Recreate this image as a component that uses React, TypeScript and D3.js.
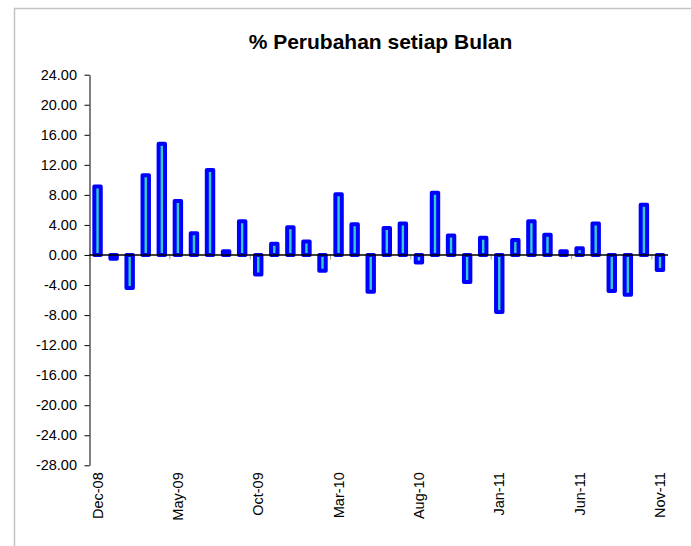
import React, { useEffect, useRef } from 'react';
import * as d3 from 'd3';

// monthly % change, Dec-08 .. Nov-11
const months = [
  'Dec-08', 'Jan-09', 'Feb-09', 'Mar-09', 'Apr-09', 'May-09', 'Jun-09', 'Jul-09', 'Aug-09', 'Sep-09', 'Oct-09', 'Nov-09',
  'Dec-09', 'Jan-10', 'Feb-10', 'Mar-10', 'Apr-10', 'May-10', 'Jun-10', 'Jul-10', 'Aug-10', 'Sep-10', 'Oct-10', 'Nov-10',
  'Dec-10', 'Jan-11', 'Feb-11', 'Mar-11', 'Apr-11', 'May-11', 'Jun-11', 'Jul-11', 'Aug-11', 'Sep-11', 'Oct-11', 'Nov-11',
];
const changes = [
  9.1, -0.5, -4.4, 10.6, 14.8, 7.2, 2.9, 11.3, 0.5, 4.5, -2.6, 1.5,
  3.7, 1.8, -2.1, 8.1, 4.1, -4.9, 3.6, 4.2, -1.0, 8.3, 2.6, -3.6,
  2.3, -7.6, 2.0, 4.5, 2.7, 0.5, 0.9, 4.2, -4.8, -5.3, 6.7, -2.0,
];
const shownLabels = ['Dec-08', 'May-09', 'Oct-09', 'Mar-10', 'Aug-10', 'Jan-11', 'Jun-11', 'Nov-11'];
const yTicks = [24, 20, 16, 12, 8, 4, 0, -4, -8, -12, -16, -20, -24, -28];

const W = 691;
const H = 546;
const FONT = '"Liberation Sans", Arial, sans-serif';

export default function App() {
  const ref = useRef<SVGSVGElement>(null);

  useEffect(() => {
    const svg = d3.select(ref.current);
    svg.selectAll('*').remove();

    const left = 89.5, right = 668, top = 74.7, bottom = 465.3;

    const x = d3.scaleBand<string>()
      .domain(months)
      .range([left, right])
      .paddingInner(0.6)
      .paddingOuter(0.3);
    const y = d3.scaleLinear().domain([-28, 24]).range([bottom, top]);

    // outer frame
    svg.append('rect')
      .attr('x', 14.5).attr('y', 8.5)
      .attr('width', 700).attr('height', 560)
      .attr('fill', '#fff')
      .attr('stroke', '#c4c4c4')
      .attr('stroke-width', 1.5);

    svg.append('text')
      .attr('x', 380.5).attr('y', 49)
      .attr('text-anchor', 'middle')
      .attr('font-family', FONT)
      .attr('font-weight', 'bold')
      .attr('font-size', 21)
      .text('% Perubahan setiap Bulan');

    // bars
    svg.append('g')
      .selectAll('rect')
      .data(changes)
      .enter()
      .append('rect')
      .attr('x', (d, i) => x(months[i])!)
      .attr('y', d => y(Math.max(0, d)))
      .attr('width', x.bandwidth())
      .attr('height', d => Math.abs(y(d) - y(0)))
      .attr('fill', '#33cccc')
      .attr('stroke', '#0000ff')
      .attr('stroke-width', 4)
      .attr('stroke-linejoin', 'round');

    // y axis
    const yAxis = d3.axisLeft(y)
      .tickValues(yTicks)
      .tickFormat(d => (+d).toFixed(2))
      .tickSize(5)
      .tickSizeOuter(0)
      .tickPadding(7.5);
    const gy = svg.append('g').attr('transform', `translate(${left},0)`).call(yAxis);
    gy.selectAll('text')
      .attr('font-family', FONT)
      .attr('font-size', 14.5)
      .attr('fill', '#000');
    gy.selectAll('line, path').attr('stroke', '#000');

    // zero line with category ticks every 5 months
    const step = x.step();
    const tickIdx = [5, 10, 15, 20, 25, 30, 35];
    svg.append('g')
      .selectAll('line')
      .data(tickIdx)
      .enter()
      .append('line')
      .attr('x1', d => left + d * step)
      .attr('x2', d => left + d * step)
      .attr('y1', y(0))
      .attr('y2', y(0) + 4.5)
      .attr('stroke', '#999')
      .attr('stroke-width', 1);

    svg.append('line')
      .attr('x1', left).attr('x2', right)
      .attr('y1', y(0)).attr('y2', y(0))
      .attr('stroke', '#000')
      .attr('stroke-width', 1.5);

    // rotated month labels
    svg.append('g')
      .selectAll('text')
      .data(shownLabels)
      .enter()
      .append('text')
      .attr('transform', d => `translate(${x(d)! + x.bandwidth() / 2},${bottom + 7}) rotate(-90)`)
      .attr('dy', '0.35em')
      .attr('text-anchor', 'end')
      .attr('font-family', FONT)
      .attr('font-size', 14.5)
      .text(d => d);
  }, []);

  return (
    <svg
      ref={ref}
      width={W}
      height={H}
      style={{ position: 'absolute', left: 0, top: 0, background: '#fff' }}
    />
  );
}
